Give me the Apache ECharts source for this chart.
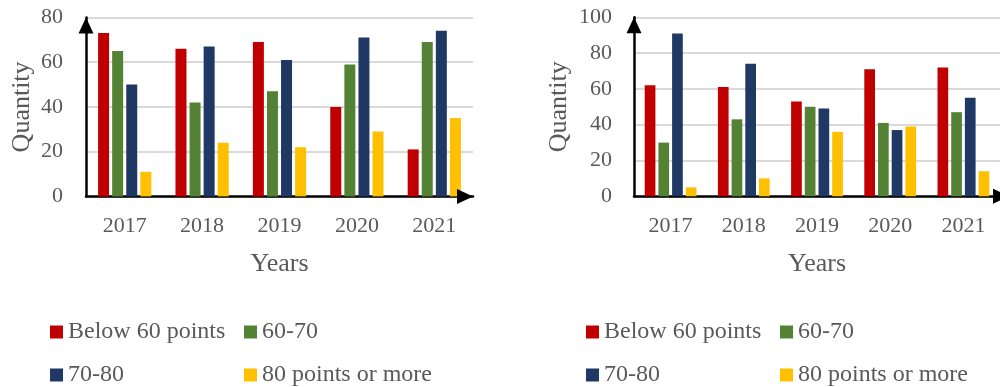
<!DOCTYPE html>
<html>
<head>
<meta charset="utf-8">
<script src="https://cdn.jsdelivr.net/npm/echarts@6/dist/echarts.min.js"></script>
<style>
html,body{margin:0;padding:0;background:#fff;}
#chart{width:1000px;height:387px;}
</style>
</head>
<body>
<div id="chart"></div>
<script>
const years = ['2017', '2018', '2019', '2020', '2021'];
const seriesNames = ['Below 60 points', '60-70', '70-80', '80 points or more'];
const colors = ['#c00000', '#548235', '#203864', '#ffc000'];

const leftBelow60 = [73, 66, 69, 40, 21];
const left60to70 = [65, 42, 47, 59, 69];
const left70to80 = [50, 67, 61, 71, 74];
const left80plus = [11, 24, 22, 29, 35];

const rightBelow60 = [62, 61, 53, 71, 72];
const right60to70 = [30, 43, 50, 41, 47];
const right70to80 = [91, 74, 49, 37, 55];
const right80plus = [5, 10, 36, 39, 14];

const leftTicks = { min: 0, max: 80, interval: 20 };
const rightTicks = { min: 0, max: 100, interval: 20 };

const FONT = 'Liberation Serif';
const GRAY = '#595959';

const grids = [
  { left: 86, top: 17.4, width: 387, height: 179 },
  { left: 634, top: 17.3, width: 375, height: 179 }
];

const axisLineStyle = { show: true, lineStyle: { color: '#000', width: 2.5 } };

function xAxis(gridIndex) {
  return {
    type: 'category', gridIndex, data: years,
    axisLine: axisLineStyle,
    axisTick: { show: false },
    axisLabel: { color: GRAY, fontFamily: FONT, fontSize: 22, margin: 19 },
    name: 'Years', nameLocation: 'middle', nameGap: 55,
    nameTextStyle: { color: GRAY, fontFamily: FONT, fontSize: 26 }
  };
}
function yAxis(gridIndex, ticks, nameGap, margin) {
  return {
    type: 'value', gridIndex, min: ticks.min, max: ticks.max, interval: ticks.interval,
    axisLine: axisLineStyle,
    axisTick: { show: false },
    splitLine: { lineStyle: { color: '#d9d9d9', width: 2 } },
    axisLabel: { color: GRAY, fontFamily: FONT, fontSize: 22, margin },
    name: 'Quantity', nameLocation: 'middle', nameGap,
    nameTextStyle: { color: GRAY, fontFamily: FONT, fontSize: 26 }
  };
}
function bar(name, data, idx, barWidth) {
  return {
    type: 'bar', name, data, xAxisIndex: idx, yAxisIndex: idx,
    barWidth, barGap: '28%',
    itemStyle: { color: colors[seriesNames.indexOf(name)] },
    emphasis: { disabled: true }
  };
}
function legend(name, left, top) {
  return {
    data: [name], left, top, padding: 0,
    icon: 'rect', itemWidth: 13, itemHeight: 13, itemGap: 0,
    textStyle: { color: GRAY, fontFamily: FONT, fontSize: 24 },
    selectedMode: false
  };
}

const chart = echarts.init(document.getElementById('chart'), null, { renderer: 'canvas' });
chart.setOption({
  animation: false,
  backgroundColor: '#fff',
  grid: grids,
  xAxis: [xAxis(0), xAxis(1)],
  yAxis: [yAxis(0, leftTicks, 51, 23), yAxis(1, rightTicks, 62, 22)],
  legend: [
    legend(seriesNames[0], 50, 320),
    legend(seriesNames[1], 244, 320),
    legend(seriesNames[2], 50, 363),
    legend(seriesNames[3], 244, 363),
    legend(seriesNames[0], 586, 320),
    legend(seriesNames[1], 780, 320),
    legend(seriesNames[2], 586, 363),
    legend(seriesNames[3], 780, 363)
  ],
  series: [
    bar(seriesNames[0], leftBelow60, 0, 11),
    bar(seriesNames[1], left60to70, 0, 11),
    bar(seriesNames[2], left70to80, 0, 11),
    bar(seriesNames[3], left80plus, 0, 11),
    bar(seriesNames[0], rightBelow60, 1, 10.7),
    bar(seriesNames[1], right60to70, 1, 10.7),
    bar(seriesNames[2], right70to80, 1, 10.7),
    bar(seriesNames[3], right80plus, 1, 10.7)
  ]
});

// Axis arrowheads positioned from the library's own scales
const ticksList = [leftTicks, rightTicks];
const arrows = [];
grids.forEach((g, i) => {
  const yTop = chart.convertToPixel({ yAxisIndex: i }, ticksList[i].max);
  const y0 = chart.convertToPixel({ yAxisIndex: i }, ticksList[i].min);
  const xL = g.left;
  const xR = g.left + g.width;
  const hw = 7.5, len = 16;
  arrows.push({
    type: 'polygon', silent: true, z: 100,
    shape: { points: [[xL, yTop], [xL - hw, yTop + len], [xL + hw, yTop + len]] },
    style: { fill: '#000' }
  });
  arrows.push({
    type: 'polygon', silent: true, z: 100,
    shape: { points: [[xR, y0], [xR - len, y0 - hw], [xR - len, y0 + hw]] },
    style: { fill: '#000' }
  });
});
chart.setOption({ graphic: arrows });
</script>
</body>
</html>
